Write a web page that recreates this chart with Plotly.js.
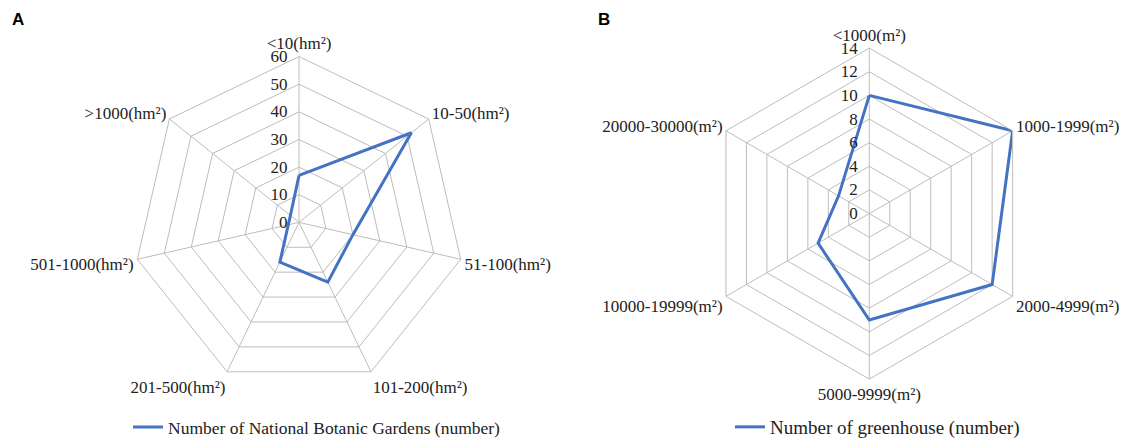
<!DOCTYPE html>
<html>
<head>
<meta charset="utf-8">
<script src="https://cdn.plot.ly/plotly-3.0.1.min.js"></script>
<style>html,body{margin:0;padding:0;background:#fff;}#chart{width:1137px;height:446px;}</style>
</head>
<body>
<div id="chart"></div>
<script>
var areaCategories = ['<10(hm²)', '10-50(hm²)', '51-100(hm²)', '101-200(hm²)', '201-500(hm²)', '501-1000(hm²)', '>1000(hm²)'];
var gardenCounts = [17, 52, 20, 24, 16, 4, 4];
var gardenTicks = [0, 10, 20, 30, 40, 50, 60];

var greenhouseCategories = ['<1000(m²)', '1000-1999(m²)', '2000-4999(m²)', '5000-9999(m²)', '10000-19999(m²)', '20000-30000(m²)'];
var greenhouseCounts = [10, 14, 12, 9, 5, 3];
var greenhouseTicks = [0, 2, 4, 6, 8, 10, 12, 14];

function closeLoop(a) { return a.concat([a[0]]); }

var serif = 'Liberation Serif, Times New Roman, serif';
var gridGray = '#bdbdbd';
var blue = '#4472c4';

var traces = [
  {
    type: 'scatterpolar', mode: 'lines', subplot: 'polar', legend: 'legend',
    r: closeLoop(gardenCounts), theta: closeLoop(areaCategories),
    name: 'Number of National Botanic Gardens (number)',
    line: {color: blue, width: 3}
  },
  {
    type: 'scatterpolar', mode: 'lines', subplot: 'polar2', legend: 'legend2',
    r: closeLoop(greenhouseCounts), theta: closeLoop(greenhouseCategories),
    name: 'Number of greenhouse (number)',
    line: {color: blue, width: 3}
  }
];

function angular(cats) {
  return {
    type: 'category', categoryarray: cats, direction: 'clockwise', rotation: 90,
    showline: true, linecolor: gridGray, linewidth: 1,
    gridcolor: gridGray, gridwidth: 1, ticks: '',
    tickfont: {family: serif, size: 17, color: '#222'}
  };
}
function radial(ticks) {
  return {
    range: [ticks[0], ticks[ticks.length - 1]], tickvals: ticks, ticktext: ticks.map(String),
    angle: 90, side: 'counterclockwise', tickangle: 90,
    showline: false, gridcolor: gridGray, gridwidth: 1,
    ticks: 'outside', ticklen: 5, tickcolor: 'rgba(0,0,0,0)',
    tickfont: {family: serif, size: 17, color: '#222'}
  };
}

var layout = {
  width: 1137, height: 446,
  margin: {l: 0, r: 0, t: 0, b: 0},
  paper_bgcolor: '#fff', plot_bgcolor: '#fff',
  polar: {
    domain: {x: [0.1135, 0.4125], y: [0.1076, 0.87]},
    gridshape: 'linear', bgcolor: 'rgba(0,0,0,0)',
    angularaxis: angular(areaCategories), radialaxis: radial(gardenTicks)
  },
  polar2: {
    domain: {x: [0.6153, 0.9138], y: [0.1285, 0.8895]},
    gridshape: 'linear', bgcolor: 'rgba(0,0,0,0)',
    angularaxis: angular(greenhouseCategories), radialaxis: radial(greenhouseTicks)
  },
  legend: {
    x: 0.1126, y: 0.018, xanchor: 'left', yanchor: 'middle', orientation: 'h',
    bgcolor: 'rgba(0,0,0,0)', font: {family: serif, size: 17.5, color: '#222'}
  },
  legend2: {
    x: 0.6420, y: 0.018, xanchor: 'left', yanchor: 'middle', orientation: 'h',
    bgcolor: 'rgba(0,0,0,0)', font: {family: serif, size: 19, color: '#222'}
  },
  annotations: [
    {text: '<b>A</b>', x: 18 / 1137, y: 1 - 20 / 446, xref: 'paper', yref: 'paper', xanchor: 'center', yanchor: 'middle', showarrow: false, font: {family: 'Liberation Sans, Arial, sans-serif', size: 17, color: '#000'}},
    {text: '<b>B</b>', x: 604 / 1137, y: 1 - 20 / 446, xref: 'paper', yref: 'paper', xanchor: 'center', yanchor: 'middle', showarrow: false, font: {family: 'Liberation Sans, Arial, sans-serif', size: 17, color: '#000'}}
  ],
  showlegend: true
};

Plotly.newPlot('chart', traces, layout, {displayModeBar: false, staticPlot: true});
</script>
</body>
</html>
